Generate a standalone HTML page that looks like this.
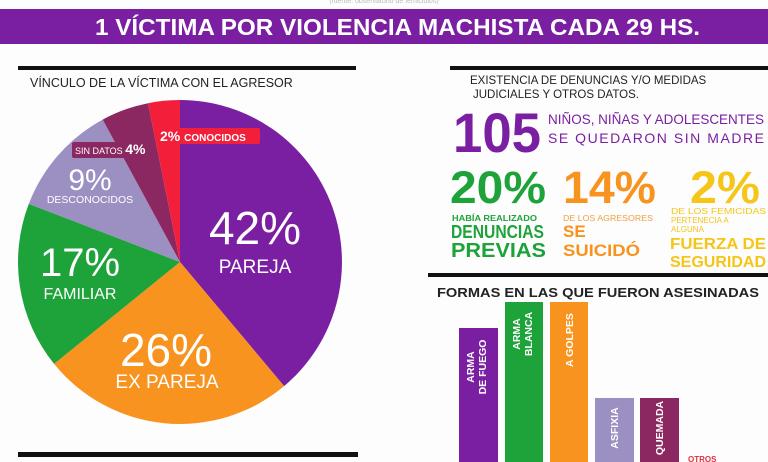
<!DOCTYPE html>
<html><head><meta charset="utf-8"><style>
html,body{margin:0;padding:0;background:#fdfdfd;}
svg{display:block;font-family:"Liberation Sans",sans-serif;}
</style></head><body>
<svg width="768" height="462" viewBox="0 0 768 462">
<rect width="768" height="462" fill="#fdfdfd"/>
<text x="384" y="3" text-anchor="middle" font-size="7" fill="#bbb">(fuente: observatorio de femicidios)</text>
<rect x="0" y="9" width="768" height="35" fill="#7b1fa2"/>
<text x="95" y="35" font-size="23" font-weight="bold" fill="#fff" textLength="605" lengthAdjust="spacingAndGlyphs">1 VÍCTIMA  POR  VIOLENCIA  MACHISTA  CADA  29  HS.</text>
<rect x="18" y="66" width="338" height="4" fill="#111"/>
<rect x="450" y="66" width="318" height="4" fill="#111"/>
<text x="30" y="87" font-size="12.5" fill="#222">VÍNCULO DE LA VÍCTIMA CON EL AGRESOR</text>
<path d="M180,262 L180,100 A162,162 0 0 1 284.1,386.1 Z" fill="#7b1fa2"/>
<path d="M180,262 L284.1,386.1 A162,162 0 0 1 54.1,363.9 Z" fill="#f7931e"/>
<path d="M180,262 L54.1,363.9 A162,162 0 0 1 28.8,203.9 Z" fill="#1ea23a"/>
<path d="M180,262 L28.8,203.9 A162,162 0 0 1 102.7,119.6 Z" fill="#9c8fc2"/>
<path d="M180,262 L102.7,119.6 A162,162 0 0 1 148,103.2 Z" fill="#8c2861"/>
<path d="M180,262 L148,103.2 A162,162 0 0 1 180,100 Z" fill="#f11f3a"/>
<text x="255" y="244" text-anchor="middle" font-size="46" fill="#fff">42%</text>
<text x="255" y="273" text-anchor="middle" font-size="19" fill="#fff">PAREJA</text>
<text x="166" y="366" text-anchor="middle" font-size="46" fill="#fff">26%</text>
<text x="167" y="388" text-anchor="middle" font-size="19" fill="#fff">EX PAREJA</text>
<text x="80" y="276" text-anchor="middle" font-size="40" fill="#fff">17%</text>
<text x="80" y="299" text-anchor="middle" font-size="16" fill="#fff">FAMILIAR</text>
<text x="90" y="190" text-anchor="middle" font-size="30" fill="#fff">9%</text>
<text x="90" y="203" text-anchor="middle" font-size="10.5" fill="#fff">DESCONOCIDOS</text>
<rect x="72" y="142" width="82" height="16" rx="2" fill="#8c2861"/>
<text x="75" y="154" font-size="9" fill="#fff">SIN DATOS <tspan font-size="14" font-weight="bold">4%</tspan></text>
<rect x="156" y="128" width="104" height="16" rx="2" fill="#f11f3a"/>
<text x="160" y="141" font-size="14" font-weight="bold" fill="#fff">2% <tspan font-size="10">CONOCIDOS</tspan></text>
<rect x="18" y="452" width="340" height="5" fill="#111"/>
<text x="470" y="84" font-size="11.5" fill="#222">EXISTENCIA DE DENUNCIAS Y/O MEDIDAS</text>
<text x="473" y="98" font-size="11.5" fill="#222">JUDICIALES Y OTROS DATOS.</text>
<text x="453" y="152" font-size="56" font-weight="bold" fill="#7b1fa2" textLength="88" lengthAdjust="spacingAndGlyphs">105</text>
<text x="548" y="124" font-size="14" fill="#7b1fa2" textLength="216" lengthAdjust="spacingAndGlyphs">NIÑOS, NIÑAS Y ADOLESCENTES</text>
<text x="548" y="143" font-size="14" fill="#7b1fa2" textLength="216">SE  QUEDARON  SIN  MADRE</text>
<text x="450" y="203" font-size="45" font-weight="bold" fill="#1ea23a" textLength="96" lengthAdjust="spacingAndGlyphs">20%</text>
<text x="563" y="203" font-size="45" font-weight="bold" fill="#f7931e" textLength="93" lengthAdjust="spacingAndGlyphs">14%</text>
<text x="690" y="203" font-size="45" font-weight="bold" fill="#f5c518" textLength="70" lengthAdjust="spacingAndGlyphs">2%</text>
<text x="452" y="221" font-size="8" fill="#1ea23a" font-weight="bold" textLength="85" lengthAdjust="spacingAndGlyphs">HABÍA REALIZADO</text>
<text x="451" y="238" font-size="18" font-weight="bold" fill="#1ea23a" textLength="93" lengthAdjust="spacingAndGlyphs">DENUNCIAS</text>
<text x="451" y="257" font-size="20" font-weight="bold" fill="#1ea23a" textLength="95" lengthAdjust="spacingAndGlyphs">PREVIAS</text>
<text x="563" y="221" font-size="8" fill="#f0a040" textLength="90" lengthAdjust="spacingAndGlyphs">DE LOS AGRESORES</text>
<text x="563" y="237" font-size="17" font-weight="bold" fill="#f7931e">SE</text>
<text x="563" y="256" font-size="17" font-weight="bold" fill="#f7931e" textLength="77" lengthAdjust="spacingAndGlyphs">SUICIDÓ</text>
<text x="671" y="214" font-size="8" fill="#f5c518" textLength="95" lengthAdjust="spacingAndGlyphs">DE LOS FEMICIDAS</text>
<text x="671" y="223" font-size="8" fill="#f5c518">PERTENECIA A</text>
<text x="671" y="232" font-size="8" fill="#f5c518">ALGUNA</text>
<text x="670" y="249" font-size="16" font-weight="bold" fill="#f5c518" textLength="96" lengthAdjust="spacingAndGlyphs">FUERZA DE</text>
<text x="670" y="267" font-size="16" font-weight="bold" fill="#f5c518" textLength="96" lengthAdjust="spacingAndGlyphs">SEGURIDAD</text>
<rect x="428" y="273" width="340" height="4" fill="#111"/>
<text x="437" y="297" font-size="13" font-weight="bold" fill="#222" textLength="322" lengthAdjust="spacingAndGlyphs">FORMAS EN LAS QUE FUERON ASESINADAS</text>
<rect x="459" y="328" width="39" height="134" fill="#7b1fa2"/>
<rect x="505" y="302" width="38" height="160" fill="#1ea23a"/>
<rect x="550" y="302" width="38" height="160" fill="#f7931e"/>
<rect x="595" y="398" width="39" height="64" fill="#9c8fc2"/>
<rect x="640" y="398" width="39" height="64" fill="#8c2861"/>
<g font-size="10.5" font-weight="bold" fill="#fff" text-anchor="middle">
<text transform="translate(474,367) rotate(-90)">ARMA</text>
<text transform="translate(486,367) rotate(-90)">DE FUEGO</text>
<text transform="translate(520,334) rotate(-90)">ARMA</text>
<text transform="translate(532,334) rotate(-90)">BLANCA</text>
<text transform="translate(573,340) rotate(-90)">A GOLPES</text>
<text transform="translate(618,428) rotate(-90)">ASFIXIA</text>
<text transform="translate(663,428) rotate(-90)">QUEMADA</text>
</g>
<text x="688" y="462" font-size="8" font-weight="bold" fill="#e03040">OTROS</text>
</svg>
</body></html>
